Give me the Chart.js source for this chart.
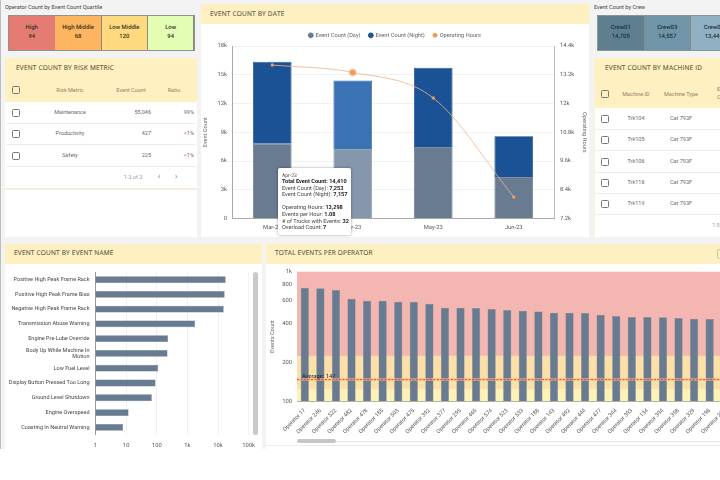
<!DOCTYPE html>
<html><head><meta charset="utf-8">
<script src="https://cdn.jsdelivr.net/npm/chart.js@4"></script>
<style>
html,body{margin:0;padding:0;width:720px;height:480px;overflow:hidden;background:#fff;font-family:Roboto,sans-serif;color:#555;text-rendering:geometricPrecision}
#bg{position:absolute;left:0;top:0;width:720px;height:449px;background:#f3f3f3;border-left:1px solid #bdbdbd;box-sizing:border-box}
.abs,.panel,.head,canvas,.t{position:absolute}
.panel{background:#fff}
.head{background:#fef0c1}
.title{position:absolute;font:400 6.5px "Open Sans",sans-serif;letter-spacing:.2px;color:#5f5840;white-space:nowrap;line-height:10px;-webkit-text-stroke:.1px #5f5840}
.t{font-size:5.5px;line-height:8px;white-space:nowrap;transform:translateY(-50%)}
.c{transform:translate(-50%,-50%);text-align:center}
.r{transform:translate(-100%,-50%);text-align:right}
.cb{position:absolute;width:6px;height:6px;border:1px solid #777;border-radius:1.5px;transform:translate(-50%,-50%);box-sizing:content-box}
.line{position:absolute;height:1px;background:#f0ede4}
.cell{position:absolute;top:0;height:100%;display:flex;flex-direction:column;justify-content:center;align-items:center;font-size:5.9px;font-weight:500;line-height:9px;color:#3a3320;box-sizing:border-box;border-right:1px solid #8a8a80}
.tm{position:absolute;overflow:hidden;border:1px solid #8f9490;box-sizing:border-box}
#tip{position:absolute;left:278px;top:168px;width:73px;height:67px;background:#fff;box-shadow:0 0 3px rgba(0,0,0,.4);border-radius:2px;padding:4.5px 0 0 4px;box-sizing:border-box;font-size:5.6px;line-height:6.6px;color:#444;white-space:nowrap;z-index:5}
#tip b{color:#222;font-weight:700}
</style></head><body>
<div id="bg"></div>
<div id="page"></div>
<canvas id="dateChart" width="388" height="213" style="left:201px;top:24px"></canvas>
<canvas id="nameChart" width="257" height="186" style="left:5px;top:263px"></canvas>
<canvas id="operChart" width="470" height="186" style="left:266px;top:263px"></canvas>
<div class="abs" style="left:253px;top:272px;width:5px;height:163px;background:#c9c9c9;border-radius:3px"></div>
<div class="abs" style="left:297px;top:441px;width:423px;height:0;border-top:1px solid #e6e6e6"></div>
<div class="abs" style="left:297px;top:439px;width:39px;height:4px;background:#c6c6c6;border-radius:2px"></div>
<div class="abs" style="left:266px;top:445px;width:454px;height:0;border-top:1px solid #ececec"></div>
<div id="tip"></div>
<script>
// ---- data ----
const dateLabels = ["Mar-23","Apr-23","May-23","Jun-23"];
const dayCounts = [7800,7253,7460,4330];
const nightCounts = [8560,7157,8280,4250];
const operatingHours = [13607,13298,12230,8097];
const dateLeftTicks = [0,3000,6000,9000,12000,15000,18000];
const tooltipLines = ["Apr-23","Total Event Count: |14,410","Event Count (Day): |7,253","Event Count (Night): |7,157","","Operating Hours: |13,298","Events per Hour: |1.08","# of Trucks with Events: |32","Overload Count: |7"];

const eventNames = ["Positive High Peak Frame Rack","Positive High Peak Frame Bias","Negative High Peak Frame Rack","Transmission Abuse Warning","Engine Pre-Lube Override",["Body Up While Machine In","Motion"],"Low Fuel Level","Display Button Pressed Too Long","Ground Level Shutdown","Engine Overspeed","Coasting In Neutral Warning"];
const eventValues = [17800,16500,15350,1780,235,224,111,91,69,12,8];
const logDecades = [1,10,100,1000,10000,100000];

const operatorNames = ["Operator 17","Operator 246","Operator 522","Operator 482","Operator 478","Operator 185","Operator 503","Operator 475","Operator 392","Operator 377","Operator 295","Operator 465","Operator 574","Operator 523","Operator 533","Operator 188","Operator 143","Operator 492","Operator 444","Operator 477","Operator 344","Operator 393","Operator 134","Operator 394","Operator 358","Operator 329","Operator 198","Operator 296"];
const operatorValues = [753,744,723,619,598,598,587,587,567,528,528,525,515,506,500,492,483,483,480,466,455,447,447,445,439,434,431,428];
const operatorTicks = [100,200,400,600,800,1000];
const bandLimits = [1000,224,124.4,100];
const averageValue = 147;

const quartileNames = ["High","High Middle","Low Middle","Low"];
const quartileValues = ["94","68","120","94"];
const crewNames = ["Crew01","Crew03","Crew02"];
const crewValues = ["14,705","14,557","13,449"];
const riskRows = [["Maintenance","55,046","99%"],["Productivity","427","<1%"],["Safety","225","<1%"]];
const machineRows = [["Trk104","Cat 793F"],["Trk105","Cat 793F"],["Trk106","Cat 793F"],["Trk118","Cat 793F"],["Trk119","Cat 793F"]];

// ---- page furniture ----
const page = document.getElementById('page');
function el(cls,css,html){const d=document.createElement('div');d.className=cls;d.style.cssText=css;if(html!==undefined)d.innerHTML=html;page.appendChild(d);return d;}
function text(x,y,s,align,color,size){el('t '+(align||''),`left:${x}px;top:${y}px;color:${color||'#666'};`+(size?`font-size:${size}px;`:''),s);}
function box(x,y,w,h,head){el('panel',`left:${x}px;top:${y}px;width:${w}px;height:${h}px`);el('head',`left:${x}px;top:${y}px;width:${w}px;height:${head}px`);}
function ttl(x,y,s){el('title',`left:${x}px;top:${y}px`,s);}

text(5,8,"Operator Count by Event Count Quartile",'','#444',5.6);
text(594,8,"Event Count by Crew",'','#444',5.6);
const q=el('tm','left:8px;top:15px;width:187px;height:36px');
const qc=['#e57c74','#fdb55f','#fed97f','#e4fdb5'];
quartileNames.forEach((n,i)=>{const d=document.createElement('div');d.className='cell';d.style.cssText=`left:${i*46.3}px;width:46.5px;background:${qc[i]}`;d.innerHTML=`<span>${n}</span><span>${quartileValues[i]}</span>`;q.appendChild(d);});
const c=el('tm','left:597px;top:15px;width:130px;height:36px');
const cc=['#5e7f90','#7095a8','#90b1c4'];
crewNames.forEach((n,i)=>{const d=document.createElement('div');d.className='cell';d.style.cssText=`left:${i*46.5}px;width:46.5px;background:${cc[i]};color:#20323c`;d.innerHTML=`<span>${n}</span><span>${crewValues[i]}</span>`;c.appendChild(d);});

// risk table
box(5,58,192,179,44);
ttl(16,63,"EVENT COUNT BY RISK METRIC");
el('cb','left:16px;top:90px;background:#fef0c1');
text(70,91,"Risk Metric",'c','#8a8468');text(131,91,"Event Count",'c','#8a8468');text(174,91,"Ratio",'c','#8a8468');
riskRows.forEach((r,i)=>{const y=113+i*21.3;el('cb',`left:16px;top:${y}px`);text(70,y,r[0],'c');text(151,y,r[1],'r');text(194,y,r[2],'r',i?'#8a5a5a':'#666');el('line',`left:6px;top:${y+10}px;width:190px`);});
text(133,177.5,"1-3 of 3",'c','#999');text(159,177,"‹",'c','#888',9);text(176,177,"›",'c','#888',9);
el('line','left:5px;top:188px;width:192px;background:#f3eee0;height:2px');

// centre panel
box(201,4,388,233,20);
ttl(210,9,"EVENT COUNT BY DATE");

// machine table
box(594,58,130,179,50);
ttl(605,63,"EVENT COUNT BY MACHINE ID");
el('cb','left:605px;top:94px;background:#fef0c1');
text(636,94.5,"Machine ID",'c','#8a8468');text(681,94.5,"Machine Type",'c','#8a8468');text(717,90,"E",'', '#8a8468');text(717,98,"C",'', '#8a8468');
machineRows.forEach((r,i)=>{const y=119+i*21.3;el('cb',`left:605px;top:${y}px`);text(636,y,r[0],'c');text(681,y,r[1],'c');el('line',`left:594px;top:${y+10}px;width:126px`);});
text(712,226,"1-5",'', '#999');
el('line','left:594px;top:58px;width:1px;height:179px;background:#fdf3d3');

// lower panels
box(5,244,257,205,19.5);
ttl(14,248,"EVENT COUNT BY EVENT NAME");
box(266,244,454,205,19.5);
ttl(275,248,"TOTAL EVENTS PER OPERATOR");
el('abs','left:717px;top:249px;width:8px;height:10px;border:1px solid #c9c4ae;border-radius:2px;box-sizing:border-box');

// tooltip text
document.getElementById('tip').innerHTML = tooltipLines.map((l,i)=>{
  if(l==="")return '<div style="height:6.6px"></div>';
  const p=l.split('|');
  if(i===0)return `<div style="font-size:5px">${l}</div>`;
  if(i===1)return `<div><b>${p[0]}${p[1]}</b></div>`;
  return `<div>${p[0]}<b>${p[1]}</b></div>`;
}).join('');

// ---- charts ----
Chart.defaults.font.family = 'Roboto, sans-serif';
Chart.defaults.font.size = 5.8;
Chart.defaults.color = '#555';
Chart.defaults.animation = false;
Chart.defaults.responsive = false;
Chart.defaults.plugins.tooltip.enabled = false;

const crisp = {id:'crisp',beforeDraw(ch){ch.ctx.textRendering='geometricPrecision';}};
Chart.register(crisp);

const k = v => v >= 1000 ? (v/1000)+'k' : String(v);
const fit = size => ({afterFit(s){ if(s.isHorizontal()) s.height=size; else s.width=size; }});
const activeIndex = 1;
const legendHeight = {id:'legendHeight',beforeInit(ch){const l=ch.legend,o=l.fit;l.fit=function(){o.call(this);this.height=22;};}};

new Chart(document.getElementById('dateChart'),{
  type:'bar',
  data:{labels:dateLabels,datasets:[
    {type:'line',label:'Operating Hours',data:operatingHours,yAxisID:'y1',order:0,borderColor:'rgba(243,178,130,.8)',borderWidth:1,cubicInterpolationMode:'monotone',
      backgroundColor:'#ef9a58',pointBackgroundColor:'#ef9a58',pointBorderColor:ctx=>ctx.dataIndex===activeIndex?'rgba(243,170,120,.35)':'#ef9a58',pointBorderWidth:ctx=>ctx.dataIndex===activeIndex?2.5:0,pointRadius:ctx=>ctx.dataIndex===activeIndex?3:1.7},
    {label:'Event Count (Day)',data:dayCounts,yAxisID:'y',stack:'a',order:1,backgroundColor:ctx=>ctx.dataIndex===activeIndex?'#8597ac':'#697b91',borderColor:ctx=>ctx.dataIndex===activeIndex?'#7d8fa5':'#5f7288',borderWidth:.8,categoryPercentage:1,barPercentage:.48},
    {label:'Event Count (Night)',data:nightCounts,yAxisID:'y',stack:'a',order:2,backgroundColor:ctx=>ctx.dataIndex===activeIndex?'#3a72b4':'#1b5296',borderColor:ctx=>ctx.dataIndex===activeIndex?'#3068ab':'#134688',borderWidth:.8,categoryPercentage:1,barPercentage:.48}
  ]},
  options:{
    layout:{padding:{left:0,right:0,top:0,bottom:0}},
    plugins:{legend:{position:'top',align:'center',labels:{usePointStyle:true,pointStyle:'circle',boxWidth:3.5,boxHeight:3.5,padding:8.5,font:{size:5.7},color:'#666',
      sort:(a,b)=>(a.datasetIndex===0?3:a.datasetIndex)-(b.datasetIndex===0?3:b.datasetIndex)}}},
    scales:{
      x:{stacked:true,...fit(18.5),grid:{display:false,drawTicks:false},border:{color:'#aaa'},ticks:{padding:6,color:'#555'}},
      y:{stacked:true,min:0,max:18000,...fit(31),title:{display:true,text:'Event Count',font:{size:5.6},color:'#666',padding:{top:1,bottom:0}},border:{color:'#aaa'},grid:{color:'#f1f1f1',drawTicks:false},
        afterBuildTicks(s){s.ticks=dateLeftTicks.map(v=>({value:v}));},ticks:{padding:5,callback:k}},
      y1:{position:'right',min:7200,max:14400,...fit(35),title:{display:true,text:'Operating Hours',font:{size:5.6},color:'#666',padding:{top:1,bottom:0}},border:{color:'#bbb'},grid:{display:false,drawTicks:false},
        ticks:{stepSize:1200,padding:6,callback:k}}
    }
  },
  plugins:[legendHeight]
});

new Chart(document.getElementById('nameChart'),{
  type:'bar',
  data:{labels:eventNames,datasets:[{data:eventValues,backgroundColor:'#697b91',borderColor:'#5f7288',borderWidth:.5,categoryPercentage:1,barPercentage:.46}]},
  options:{
    indexAxis:'y',
    layout:{padding:{top:8.3,right:13,left:0,bottom:0}},
    plugins:{legend:{display:false}},
    scales:{
      x:{type:'logarithmic',min:1,max:100000,...fit(14.3),grid:{color:'#f1f1f1',drawTicks:false},border:{display:false},
        afterBuildTicks(s){s.ticks=logDecades.map(v=>({value:v}));},ticks:{padding:7,autoSkip:false,maxRotation:0,callback:k}},
      y:{...fit(90.5),grid:{display:false,drawTicks:false},border:{color:'#999'},ticks:{padding:6,autoSkip:false,color:'#444',font:{size:5.5,lineHeight:1.15}}}
    }
  }
});

const bandColors = ['#f4b6b1','#fde0a7','#fef1ba'];
const zones = {id:'zones',
  beforeDatasetsDraw(ch){const {ctx,chartArea:a,scales:{y}}=ch;ctx.save();
    bandColors.forEach((col,i)=>{const t=y.getPixelForValue(bandLimits[i]),b=y.getPixelForValue(bandLimits[i+1]);ctx.fillStyle=col;ctx.fillRect(a.left,t,a.right-a.left,b-t);});
    ctx.restore();},
  afterDatasetsDraw(ch){const {ctx,chartArea:a,scales:{y}}=ch;const p=y.getPixelForValue(averageValue);ctx.save();
    ctx.strokeStyle='rgba(255,190,120,.55)';ctx.lineWidth=3;ctx.beginPath();ctx.moveTo(a.left,p);ctx.lineTo(a.right,p);ctx.stroke();
    ctx.strokeStyle='#dc4a45';ctx.lineWidth=1;ctx.setLineDash([2,1.5]);ctx.beginPath();ctx.moveTo(a.left,p);ctx.lineTo(a.right,p);ctx.stroke();
    ctx.setLineDash([]);ctx.fillStyle='#222';ctx.font='5.8px Roboto';ctx.textAlign='left';ctx.textBaseline='alphabetic';ctx.fillText('Average: '+averageValue,a.left+5,p-1.5);
    ctx.restore();}
};
new Chart(document.getElementById('operChart'),{
  type:'bar',
  data:{labels:operatorNames,datasets:[{data:operatorValues,backgroundColor:'#687b91',borderColor:'#7f90a5',borderWidth:.5,categoryPercentage:1,barPercentage:.53}]},
  options:{
    layout:{padding:{top:8.7,right:0,left:0,bottom:0}},
    plugins:{legend:{display:false}},
    scales:{
      x:{...fit(47.7),grid:{display:false,drawTicks:false},border:{color:'#999'},ticks:{autoSkip:false,minRotation:45,maxRotation:45,padding:6,color:'#555',font:{size:5.6}}},
      y:{type:'logarithmic',min:100,max:1000,...fit(31),title:{display:true,text:'Events Count',font:{size:5.6},color:'#666',padding:{top:3,bottom:0}},grid:{display:false,drawTicks:false},border:{display:false},
        afterBuildTicks(s){s.ticks=operatorTicks.map(v=>({value:v}));},ticks:{padding:5,autoSkip:false,callback:k}}
    }
  },
  plugins:[zones]
});
</script>
</body></html>
